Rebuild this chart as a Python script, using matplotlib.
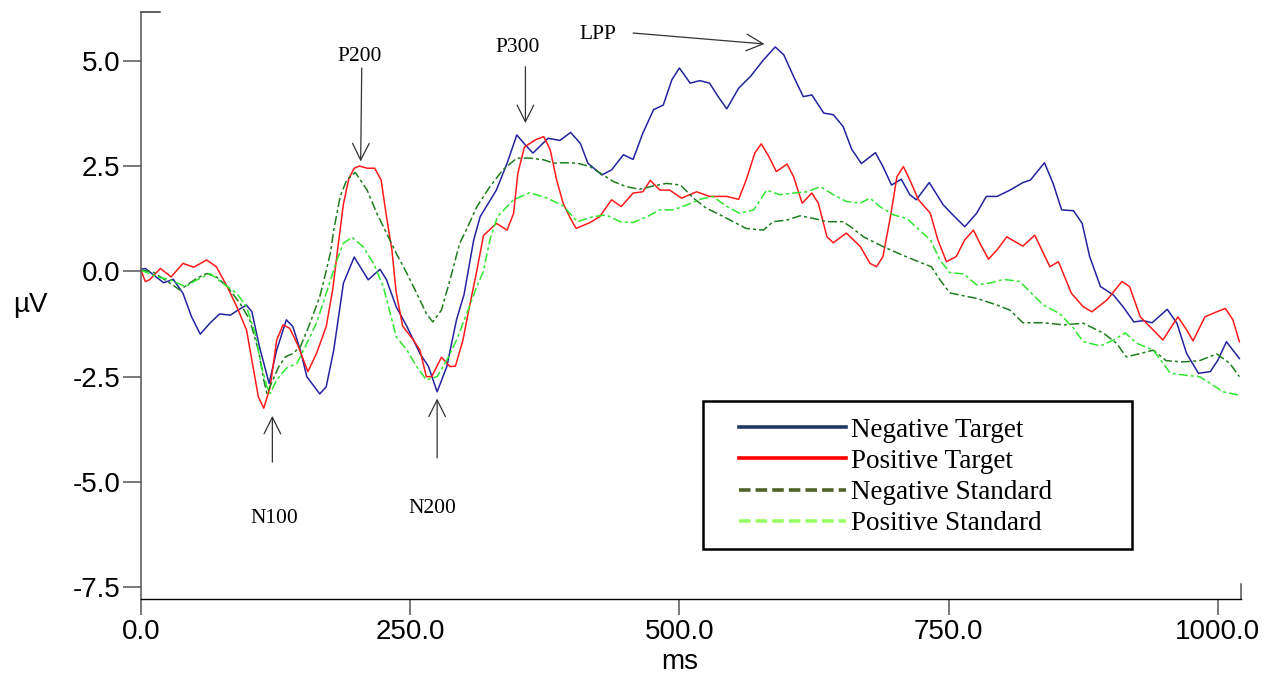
import matplotlib
matplotlib.use('Agg')
import matplotlib.pyplot as plt
from matplotlib.lines import Line2D
from matplotlib.patches import Rectangle

plt.rcParams['axes.unicode_minus'] = False
plt.rcParams['font.family'] = ['Liberation Sans', 'DejaVu Sans']

# --- data (ms, uV) ---
nt_t = [0, 4, 8, 21, 30, 39, 47, 55, 64, 73, 83, 90, 98, 103, 110, 119, 126, 135, 141, 148,
        154, 166, 172, 179, 188, 198, 211, 222, 228, 237, 247, 259, 267, 275, 284, 293, 300, 309,
        315, 330, 340, 349, 357, 364, 378, 389, 399, 408, 415, 428, 437, 448, 457, 466, 476, 485,
        493, 500, 510, 519, 528, 536, 544, 555, 566, 578, 589, 597, 606, 615, 623, 634, 643, 652,
        660, 669, 682, 689, 697, 706, 714, 720, 732, 745, 754, 765, 776, 785, 795, 807, 819, 826,
        839, 847, 855, 866, 874, 881, 891, 903, 912, 922, 931, 939, 953, 962, 971, 982, 993, 1000,
        1008, 1020]
nt_v = [0.05, 0.07, -0.01, -0.27, -0.19, -0.52, -1.08, -1.49, -1.23, -1.01, -1.04, -0.92, -0.80,
        -0.96, -1.79, -2.66, -1.87, -1.15, -1.31, -1.87, -2.50, -2.91, -2.74, -1.87, -0.28, 0.34,
        -0.20, 0.05, -0.20, -0.84, -1.31, -1.95, -2.26, -2.86, -2.26, -1.15, -0.55, 0.75, 1.30,
        1.93, 2.57, 3.24, 3.00, 2.81, 3.16, 3.11, 3.30, 3.04, 2.57, 2.29, 2.41, 2.77, 2.66, 3.28,
        3.84, 3.95, 4.55, 4.83, 4.47, 4.53, 4.47, 4.15, 3.86, 4.35, 4.63, 5.02, 5.33, 5.14, 4.63,
        4.15, 4.19, 3.76, 3.72, 3.44, 2.90, 2.56, 2.82, 2.49, 2.05, 2.19, 1.82, 1.70, 2.11, 1.58,
        1.34, 1.06, 1.38, 1.78, 1.78, 1.93, 2.11, 2.17, 2.58, 2.09, 1.46, 1.44, 1.14, 0.35, -0.36,
        -0.56, -0.84, -1.20, -1.17, -1.22, -0.90, -1.23, -1.95, -2.42, -2.38, -2.11, -1.67, -2.07]

pt_t = [0, 4, 8, 18, 28, 39, 49, 61, 70, 80, 89, 98, 104, 109, 114, 120, 126, 132, 138, 145,
        151, 155, 163, 172, 178, 183, 188, 193, 198, 203, 210, 217, 223, 228, 233, 237, 243, 253,
        259, 265, 270, 279, 287, 292, 299, 305, 312, 318, 330, 340, 346, 350, 356, 366, 374, 380,
        386, 392, 398, 404, 417, 426, 437, 446, 457, 466, 473, 482, 491, 502, 516, 528, 544, 555,
        562, 570, 576, 583, 590, 600, 606, 614, 623, 629, 637, 643, 655, 668, 677, 683, 689, 696,
        702, 708, 714, 722, 733, 740, 748, 757, 765, 773, 779, 787, 795, 804, 819, 830, 844, 852,
        864, 875, 883, 897, 911, 918, 928, 940, 949, 957, 963, 971, 977, 988, 999, 1007, 1014, 1020]
pt_v = [0.03, -0.24, -0.20, 0.07, -0.13, 0.19, 0.10, 0.27, 0.11, -0.36, -0.84, -1.39, -2.26,
        -2.98, -3.25, -2.74, -1.63, -1.27, -1.35, -1.71, -2.11, -2.38, -1.95, -1.31, -0.44, 0.60,
        1.60, 2.20, 2.45, 2.50, 2.45, 2.45, 2.17, 1.30, 0.51, -0.50, -1.30, -1.63, -1.87, -2.50,
        -2.50, -2.04, -2.26, -2.25, -1.63, -0.84, 0.03, 0.85, 1.14, 0.98, 1.38, 2.33, 2.95, 3.12,
        3.20, 2.89, 2.17, 1.62, 1.30, 1.02, 1.16, 1.30, 1.70, 1.54, 1.86, 1.89, 2.16, 1.93, 1.93,
        1.74, 1.89, 1.78, 1.78, 1.71, 2.17, 2.81, 3.03, 2.73, 2.37, 2.55, 2.25, 1.62, 1.86, 1.62,
        0.82, 0.68, 0.91, 0.59, 0.19, 0.11, 0.35, 1.30, 2.25, 2.49, 2.17, 1.70, 1.38, 0.75, 0.23,
        0.35, 0.75, 0.98, 0.67, 0.29, 0.51, 0.82, 0.60, 0.86, 0.11, 0.23, -0.52, -0.84, -0.96,
        -0.68, -0.24, -0.36, -1.08, -1.39, -1.63, -1.31, -1.08, -1.39, -1.65, -1.08, -0.96, -0.88,
        -1.15, -1.67]

ns_t = [0, 11, 27, 36, 52, 61, 70, 80, 92, 101, 109, 114, 117, 121, 128, 134, 141, 148, 157,
        166, 170, 176, 179, 185, 191, 199, 210, 219, 228, 237, 247, 256, 265, 271, 279, 287, 296,
        302, 312, 324, 336, 349, 361, 374, 383, 392, 405, 417, 429, 439, 451, 463, 476, 488, 501,
        513, 525, 538, 550, 562, 578, 587, 600, 612, 624, 637, 652, 660, 671, 689, 705, 720, 734,
        742, 751, 764, 776, 795, 807, 819, 838, 857, 875, 894, 906, 915, 928, 940, 952, 968, 983,
        999, 1011, 1020]
ns_v = [0.03, -0.01, -0.28, -0.44, -0.16, -0.05, -0.13, -0.36, -0.76, -1.15, -1.87, -2.58, -2.90,
        -2.66, -2.26, -2.03, -1.95, -1.79, -1.23, -0.60, -0.20, 0.45, 0.98, 1.78, 2.17, 2.35, 1.93,
        1.38, 0.91, 0.43, -0.05, -0.52, -1.00, -1.20, -0.92, -0.20, 0.67, 0.98, 1.54, 2.01, 2.41,
        2.69, 2.69, 2.65, 2.57, 2.58, 2.57, 2.49, 2.29, 2.13, 2.01, 1.95, 2.03, 2.09, 2.05, 1.74,
        1.50, 1.34, 1.18, 1.02, 0.98, 1.18, 1.22, 1.32, 1.26, 1.18, 1.18, 1.04, 0.82, 0.59, 0.41,
        0.25, 0.11, -0.20, -0.51, -0.58, -0.64, -0.80, -0.92, -1.22, -1.22, -1.27, -1.23, -1.47,
        -1.71, -2.03, -1.95, -1.87, -2.12, -2.15, -2.12, -1.96, -2.18, -2.50]

ps_t = [0, 15, 27, 41, 52, 64, 76, 89, 98, 106, 112, 117, 120, 126, 135, 145, 154, 163, 172, 182,
        188, 196, 206, 216, 225, 231, 237, 247, 256, 265, 275, 284, 293, 305, 312, 318, 324, 331,
        346, 361, 377, 392, 405, 420, 432, 445, 457, 470, 482, 494, 507, 519, 531, 544, 556, 569,
        581, 593, 606, 618, 631, 643, 655, 668, 677, 686, 699, 711, 723, 733, 742, 751, 764, 776,
        788, 801, 816, 827, 838, 853, 866, 875, 891, 903, 914, 925, 940, 949, 956, 968, 983, 993,
        1005, 1020]
ps_v = [0.03, -0.13, -0.20, -0.36, -0.20, -0.05, -0.28, -0.52, -0.84, -1.47, -2.26, -2.74, -2.90,
        -2.58, -2.30, -2.18, -1.71, -1.23, -0.52, 0.27, 0.67, 0.81, 0.59, 0.19, -0.36, -0.95,
        -1.55, -1.87, -2.26, -2.58, -2.50, -2.11, -1.63, -0.84, -0.35, 0.00, 0.75, 1.30, 1.70,
        1.87, 1.74, 1.56, 1.18, 1.30, 1.34, 1.18, 1.16, 1.30, 1.46, 1.46, 1.58, 1.71, 1.78, 1.54,
        1.38, 1.46, 1.93, 1.82, 1.86, 1.89, 2.01, 1.82, 1.66, 1.62, 1.74, 1.54, 1.34, 1.26, 0.98,
        0.75, 0.27, -0.03, -0.06, -0.32, -0.28, -0.19, -0.24, -0.52, -0.80, -1.00, -1.35, -1.67,
        -1.77, -1.63, -1.46, -1.71, -1.87, -2.18, -2.42, -2.46, -2.50, -2.66, -2.86, -2.94]

series_labels = ['Negative Target', 'Positive Target', 'Negative Standard', 'Positive Standard']

# component labels: (text, text pos, arrow tail, arrow tip)
components = [
    ('P200', (203, 5.10), (205, 4.83), (204, 2.61)),
    ('P300', (350, 5.31), (357, 4.86), (357, 3.52)),
    ('LPP', (424, 5.62), (457, 5.66), (579, 5.40)),
    ('N100', (124, -5.88), (122, -4.53), (122, -3.43)),
    ('N200', (271, -5.62), (275, -4.43), (275, -3.02)),
]

fig = plt.figure(figsize=(12.77, 6.77), dpi=100)
ax = fig.add_axes([0.1104, 0.1152, 0.8614, 0.8671])

ax.plot(nt_t, nt_v, color='#2323a0', lw=1.1)
ax.plot(pt_t, pt_v, color='#ff1a1a', lw=1.1)
ax.plot(ns_t, ns_v, color='#1f7d1f', lw=1.1, ls=(0, (6, 2, 2, 2)))
ax.plot(ps_t, ps_v, color='#2fe82f', lw=1.1, ls=(0, (6, 2, 2, 2)))

ax.set_xlim(0, 1021.5)
ax.set_ylim(-7.78, 6.16)
ax.set_xticks([0, 250, 500, 750, 1000])
ax.set_yticks([-7.5, -5.0, -2.5, 0.0, 2.5, 5.0])
ax.xaxis.set_major_formatter(matplotlib.ticker.FormatStrFormatter('%.1f'))
ax.yaxis.set_major_formatter(matplotlib.ticker.FormatStrFormatter('%.1f'))
ax.tick_params(axis='both', labelsize=20, color='#555555', width=1.1, direction='out')
ax.tick_params(axis='y', length=13, pad=2)
ax.tick_params(axis='x', length=11.5, pad=3)

for s in ['top', 'right']:
    ax.spines[s].set_visible(False)
ax.spines['left'].set_color('#555555')
ax.spines['left'].set_linewidth(1.1)
ax.spines['bottom'].set_color('black')
ax.spines['bottom'].set_linewidth(1.0)
# end caps of the axes
ax.plot([0, 0.017], [1, 1], transform=ax.transAxes, color='#333333', lw=1.1, clip_on=False)
ax.plot([1, 1], [0, 0.026], transform=ax.transAxes, color='#555555', lw=1.1, clip_on=False)

ax.set_xlabel('ms', fontsize=20, va='center')
ax.xaxis.set_label_coords(0.49, -0.107)
ax.set_ylabel('µV', fontsize=20, rotation=0, va='center', ha='center')
ax.yaxis.set_label_coords(-0.101, 0.5)

for name, txt_pos, tail, tip in components:
    ax.text(txt_pos[0], txt_pos[1], name, fontsize=15.5, ha='center', va='center',
            family=['Liberation Serif', 'DejaVu Serif'])
    ax.annotate('', xy=tip, xytext=tail,
                arrowprops=dict(arrowstyle='->,head_length=0.6,head_width=0.3',
                                color='#333333', lw=0.9, shrinkA=0, shrinkB=0,
                                mutation_scale=20))

# legend
handles = [
    Line2D([], [], color='#1f3864', lw=2.6),
    Line2D([], [], color='#ff0000', lw=2.6),
    Line2D([], [], color='#4f6228', lw=2.6, ls=(0, (3.2, 1.4))),
    Line2D([], [], color='#99ff66', lw=2.6, ls=(0, (3.2, 1.4))),
]
ax.add_patch(Rectangle((0.511, 0.085), 0.39, 0.252, transform=ax.transAxes,
                       fill=False, edgecolor='black', lw=1.8, clip_on=False))
ax.legend(handles, series_labels, loc='upper left', bbox_to_anchor=(0.5436, 0.309),
          frameon=False, borderpad=0, borderaxespad=0, handlelength=3.95,
          handletextpad=0.2, labelspacing=0.23,
          prop={'family': ['Liberation Serif', 'DejaVu Serif'], 'size': 19.5})

fig.savefig('out.png', dpi=100, facecolor='white')
